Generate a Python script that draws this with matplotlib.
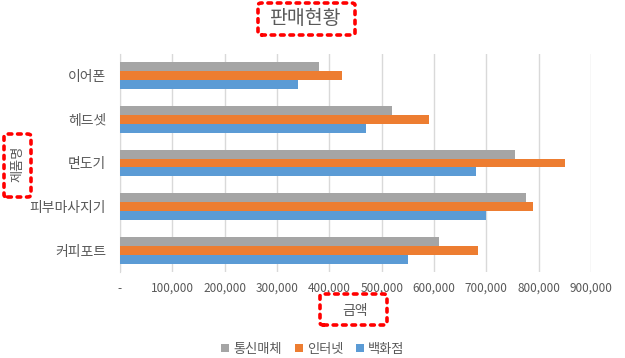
import matplotlib
matplotlib.use("Agg")
import matplotlib.pyplot as plt
import numpy as np
from matplotlib.patches import FancyBboxPatch
from matplotlib.ticker import FuncFormatter

plt.rcParams['font.family'] = ['Noto Sans CJK KR', 'DejaVu Sans']

categories = ['이어폰', '헤드셋', '면도기', '피부마사지기', '커피포트']
series_names = ['통신매체', '인터넷', '백화점']
telecom = [380000, 520000, 755000, 775000, 610000]
internet = [425000, 590000, 850000, 790000, 685000]
dept = [340000, 470000, 680000, 700000, 550000]
xticks = [0, 100000, 200000, 300000, 400000, 500000, 600000, 700000, 800000, 900000]

colors = ['#A5A5A5', '#ED7D31', '#5B9BD5']
text_color = '#595959'

fig = plt.figure(figsize=(6.25, 3.58), dpi=100)
ax = fig.add_axes([120/625, 1-272/358, 471/625, 218/358])

y = np.arange(len(categories))
h = 0.205
for i, (vals, name, c) in enumerate(zip([telecom, internet, dept], series_names, colors)):
    ax.barh(y + (i - 1) * h, vals, height=h, color=c, label=name, zorder=3)

ax.set_ylim(len(categories) - 0.5, -0.5)
ax.set_yticks(y)
ax.set_yticklabels(categories, fontsize=10, color=text_color)
ax.set_xlim(0, 900000)
ax.set_xticks(xticks)
ax.xaxis.set_major_formatter(FuncFormatter(lambda v, p: '-' if v == 0 else f'{int(v):,}'))
ax.tick_params(axis='x', labelsize=8.5, colors=text_color, length=0, pad=7)
ax.tick_params(axis='y', length=0, pad=10)
ax.grid(axis='x', color='#D9D9D9', linewidth=1, zorder=0)
for s in ['top', 'right', 'bottom']:
    ax.spines[s].set_visible(False)
ax.spines['left'].set_color('#D9D9D9')

fig.text(306/625, 1-19/358, '판매현황', ha='center', va='center', fontsize=14, color=text_color)
fig.text(18/625, 1-164/358, '제품명', ha='center', va='center', rotation=90, fontsize=9.5, color=text_color)
fig.text(355/625, 1-311/358, '금액', ha='center', va='center', fontsize=10, color=text_color)

def redbox(x0, y0, x1, y1):
    p = FancyBboxPatch((x0/625, 1-y1/358), (x1-x0)/625, (y1-y0)/358,
                       boxstyle='round,pad=0,rounding_size=0.006',
                       transform=fig.transFigure, fill=False, edgecolor='#FF0000',
                       linewidth=2.6, linestyle=(0, (1, 1.6)), capstyle='round')
    fig.add_artist(p)

redbox(258, 3, 355, 35)
redbox(4, 134, 31, 197)
redbox(320, 294, 387, 325)

handles, labels = ax.get_legend_handles_labels()
leg = fig.legend(handles, labels, loc='center', bbox_to_anchor=(313/625, 1-349/358), ncol=3,
                 frameon=False, fontsize=9.5, handlelength=0.6, handleheight=0.6,
                 handletextpad=0.3, columnspacing=1.0, labelcolor=text_color)

fig.savefig('out.png', dpi=100)
